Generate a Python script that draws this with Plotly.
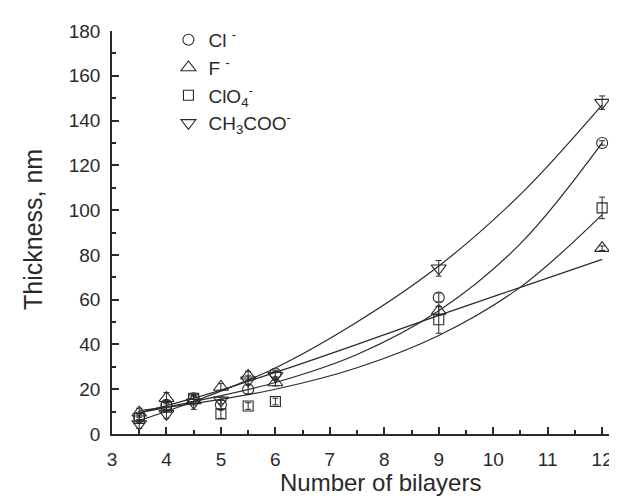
import plotly.graph_objects as go

# ---- data ----
bilayers = [3.5, 4, 4.5, 5, 5.5, 6, 9, 12]

cl_thick = [7.5, 13, 16, 13, 20, 27, 61, 130]
cl_err = [1.5, 2, 1.5, 2, 2, 1.5, 2, 1]

f_thick = [9.5, 16, 15, 21, 26, 23, 55, 83]
f_err = [2, 2.5, 2, 1.5, 2, 1.5, 2, 1]

clo4_thick = [7, 12, 16, 9, 12.5, 14.5, 51, 101]
clo4_err = [1.5, 2, 1.5, 2, 1.5, 1.5, 6, 4.8]

ch3coo_thick = [4.5, 9, 14, 15, 24, 26, 74, 148]
ch3coo_err = [2, 2, 3, 1.5, 2, 2, 3.5, 3]

# fitted curves
fit_x = [3.5, 4.5, 6, 7.5, 9, 10.5, 12]
cl_fit = [9.5, 14.5, 23, 35.5, 55, 85, 130]
f_fit = [9.5, 16, 27.5, 40, 53, 65.5, 78]
clo4_fit = [10.5, 13.6, 20, 29.6, 44, 65.6, 98]
ch3coo_fit = [6, 14.5, 29.5, 50, 75, 107, 147]

names = ["Cl <sup>-</sup>", "F <sup>-</sup>", "ClO<sub>4</sub><sup>-</sup>", "CH<sub>3</sub>COO<sup>-</sup>"]
symbols = ["circle-open", "triangle-up-open", "square-open", "triangle-down-open"]
sizes = [11, 13, 10, 13]
series = [cl_thick, f_thick, clo4_thick, ch3coo_thick]
errors = [cl_err, f_err, clo4_err, ch3coo_err]
fits = [cl_fit, f_fit, clo4_fit, ch3coo_fit]

INK = "#2a2a2a"
FONT = "Liberation Sans, Arial, sans-serif"

fig = go.Figure()

for fy in fits:
    fig.add_trace(go.Scatter(
        x=fit_x, y=fy, mode="lines", line=dict(color=INK, width=1.2, shape="spline"),
        showlegend=False, hoverinfo="skip"))

for name, sym, sz, ys, es in zip(names, symbols, sizes, series, errors):
    fig.add_trace(go.Scatter(
        x=bilayers, y=ys, mode="markers", name=name,
        marker=dict(symbol=sym, size=sz, color=INK, line=dict(width=1.1, color=INK)),
        error_y=dict(type="data", array=es, visible=True, color=INK, thickness=1, width=3)))

fig.update_layout(
    width=617, height=498,
    margin=dict(l=104, r=0, t=23, b=72),
    paper_bgcolor="white", plot_bgcolor="white",
    font=dict(family=FONT, size=19, color=INK),
    showlegend=True,
    legend=dict(x=0.11, y=1.025, xanchor="left", yanchor="top",
                bgcolor="rgba(0,0,0,0)", font=dict(size=19, family=FONT, color=INK),
                tracegroupgap=0),
    xaxis=dict(range=[3, 12.42], dtick=1, tick0=3, showline=True, linecolor=INK, linewidth=1.5,
               ticks="inside", ticklen=7, tickwidth=1.5, tickcolor=INK,
               minor=dict(dtick=0.5, ticks="inside", ticklen=4, tickwidth=1.5, tickcolor=INK),
               showgrid=False, zeroline=False, ticklabelstandoff=7,
               tickfont=dict(size=19, family=FONT, color=INK)),
    yaxis=dict(range=[0, 180], dtick=20, tick0=0, showline=True, linecolor=INK, linewidth=1.5,
               ticks="inside", ticklen=7, tickwidth=1.5, tickcolor=INK,
               minor=dict(dtick=10, ticks="inside", ticklen=4, tickwidth=1.5, tickcolor=INK),
               showgrid=False, zeroline=False, ticklabelstandoff=6,
               tickfont=dict(size=19, family=FONT, color=INK)),
    annotations=[
        dict(text="Number of bilayers", x=372, y=475, xref="paper", yref="paper",
             showarrow=False, font=dict(size=24, family=FONT, color=INK)),
        dict(text="Thickness, nm", x=25, y=222, xref="paper", yref="paper",
             showarrow=False, textangle=-90, font=dict(size=25, family=FONT, color=INK)),
    ],
)

# convert pixel positions of the axis titles into paper coordinates
pw = 617 - 104 - 0
ph = 498 - 23 - 72
for ann in fig.layout.annotations:
    px, py = ann.x, ann.y
    ann.x = (px - 104) / pw
    ann.y = (498 - 72 - py) / ph
    ann.xanchor = "center"
    ann.yanchor = "middle"

fig.write_html("out.html")
